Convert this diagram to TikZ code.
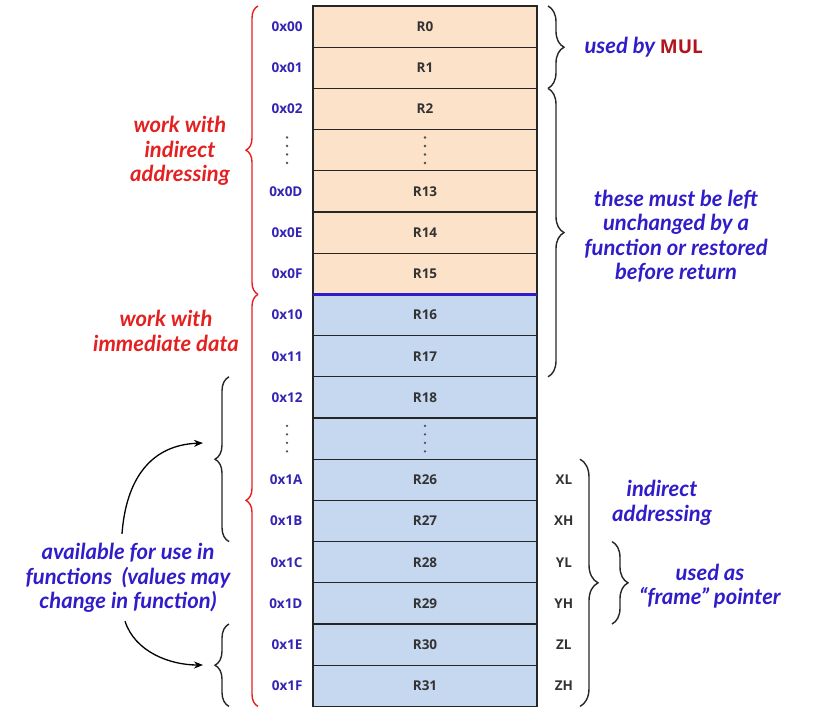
\documentclass[tikz,border=0pt]{standalone}
\usepackage{fontspec}
\setmainfont{Open Sans}
\newfontfamily\handfont{Lato}
\usetikzlibrary{positioning}
\usetikzlibrary{decorations.pathreplacing}
\usetikzlibrary{arrows.meta}
\definecolor{regorange}{RGB}{252,226,200}
\definecolor{regblue}{RGB}{198,216,240}
\definecolor{addrblue}{RGB}{52,36,180}
\definecolor{handblue}{RGB}{48,28,200}
\definecolor{handred}{RGB}{228,32,32}
\definecolor{mulred}{RGB}{176,20,28}
\newcommand{\dotcol}{\tikz\foreach \k in {0,...,3} \fill[black!70] (0pt,{-\k*8.5pt}) circle (1.3pt);}
\tikzset{node distance=0pt,
    reg/.style={
        draw=black!85,
        line width=1.2pt,
        outer sep=0pt,
        inner sep=0pt,
        minimum width=224pt,
        minimum height=41.2pt,
        text=black!80,
        font=\bfseries\fontsize{13.5}{16}\selectfont},
    lo/.style={reg, fill=regorange},
    hi/.style={reg, fill=regblue},
    addr/.style={text=addrblue, font=\bfseries\fontsize{13.5}{16}\selectfont},
    pair/.style={text=black!80, font=\bfseries\fontsize{13.5}{16}\selectfont},
    note/.style={
        align=center,
        text=handblue,
        font=\handfont\itshape\bfseries\fontsize{22}{24.5}\selectfont},
    rednote/.style={note, text=handred},
    rbrace/.style={draw=handred, line width=1.4pt, decorate,
        decoration={brace, amplitude=12pt}},
    kbrace/.style={draw=black!85, line width=1.4pt, decorate,
        decoration={brace, amplitude=#1}},
    kbrace/.default=15pt,
    sepline/.style={draw=handblue, line width=2.6pt},
    curved/.style={->, >={Stealth[length=9pt,width=7pt]}, line width=1.3pt}}

\begin{document}
\begin{tikzpicture}[x=1pt,y=-1pt]
        \useasboundingbox (0,0) rectangle (830,716);

        \node[lo] (r0) at (425,26.6) {R0};
        \node[lo, below=of r0] (r1) {R1};
        \node[lo, below=of r1] (r2) {R2};
        \node[lo, below=of r2] (r3) {\dotcol};
        \node[lo, below=of r3] (r13) {R13};
        \node[lo, below=of r13] (r14) {R14};
        \node[lo, below=of r14] (r15) {R15};
        \node[hi, below=of r15] (r16) {R16};
        \node[hi, below=of r16] (r17) {R17};
        \node[hi, below=of r17] (r18) {R18};
        \node[hi, below=of r18] (r19) {\dotcol};
        \node[hi, below=of r19] (r26) {R26};
        \node[hi, below=of r26] (r27) {R27};
        \node[hi, below=of r27] (r28) {R28};
        \node[hi, below=of r28] (r29) {R29};
        \node[hi, below=of r29] (r30) {R30};
        \node[hi, below=of r30] (r31) {R31};
        \draw[sepline] (r15.south west) -- (r15.south east);

        \node[addr, left=7pt of r0] (a0) {0x00};
        \node[addr, left=7pt of r1] (a1) {0x01};
        \node[addr, left=7pt of r2] (a2) {0x02};
        \node[addr] (a3) at (a2 |- r3) {\dotcol};
        \node[addr, left=7pt of r13] (a13) {0x0D};
        \node[addr, left=7pt of r14] (a14) {0x0E};
        \node[addr, left=7pt of r15] (a15) {0x0F};
        \node[addr, left=7pt of r16] (a16) {0x10};
        \node[addr, left=7pt of r17] (a17) {0x11};
        \node[addr, left=7pt of r18] (a18) {0x12};
        \node[addr] (a19) at (a18 |- r19) {\dotcol};
        \node[addr, left=7pt of r26] (a26) {0x1A};
        \node[addr, left=7pt of r27] (a27) {0x1B};
        \node[addr, left=7pt of r28] (a28) {0x1C};
        \node[addr, left=7pt of r29] (a29) {0x1D};
        \node[addr, left=7pt of r30] (a30) {0x1E};
        \node[addr, left=7pt of r31] (a31) {0x1F};

        \node[pair, right=15pt of r26] (xl) {XL};
        \node[pair] (xh) at (xl |- r27) {XH};
        \node[pair] (yl) at (xl |- r28) {YL};
        \node[pair] (yh) at (xl |- r29) {YH};
        \node[pair] (zl) at (xl |- r30) {ZL};
        \node[pair] (zh) at (xl |- r31) {ZH};

        \coordinate (redx) at (258,0);
        \coordinate (kx) at (548,0);
        \coordinate (ix) at (580,0);
        \coordinate (fx) at (612,0);
        \coordinate (lx) at (229,0);
        \draw[rbrace] (redx |- r15.south) -- (redx |- r0.north);
        \draw[rbrace] (redx |- r31.south) -- (redx |- r16.north);
        \draw[kbrace=16pt] (kx |- r0.north) -- (kx |- r1.south);
        \draw[kbrace=16pt] (kx |- r2.north) -- (kx |- r17.south);
        \draw[kbrace=18pt] (ix |- r26.north) -- (ix |- r31.south);
        \draw[kbrace=16pt] (fx |- r28.north) -- (fx |- r29.south);
        \draw[kbrace=14pt] (lx |- r27.south) -- (lx |- r18.north);
        \draw[kbrace=14pt] (lx |- r31.south) -- (lx |- r30.north);

        \node[note, anchor=west] (mul) at (581,47) {used by \textcolor{mulred}{\rmfamily\upshape\bfseries\fontsize{19}{24}\selectfont MUL}};
        \node[note] (keep) at (676,236) {these must be left\\unchanged by a\\function or restored\\before return};
        \node[rednote] (indir) at (180,151) {work with\\indirect\\addressing};
        \node[rednote] (immed) at (166,331) {work with\\immediate data};
        \node[note] (xind) at (662,503) {indirect\\addressing};
        \node[note] (frame) at (710,586) {used as\\“frame” pointer};
        \node[note] (avail) at (128,578) {available for use in\\functions\ \ (values may\\change in function)};

        \coordinate (up) at (203,443);
        \coordinate (dn) at (203,665);
        \draw[curved] ([xshift=-6pt,yshift=6pt]avail.north) .. controls (126,480) and (150,445) .. (up);
        \draw[curved] ([xshift=-3pt,yshift=-5pt]avail.south) .. controls (135,652) and (170,665) .. (dn);
    \end{tikzpicture}
\end{document}
